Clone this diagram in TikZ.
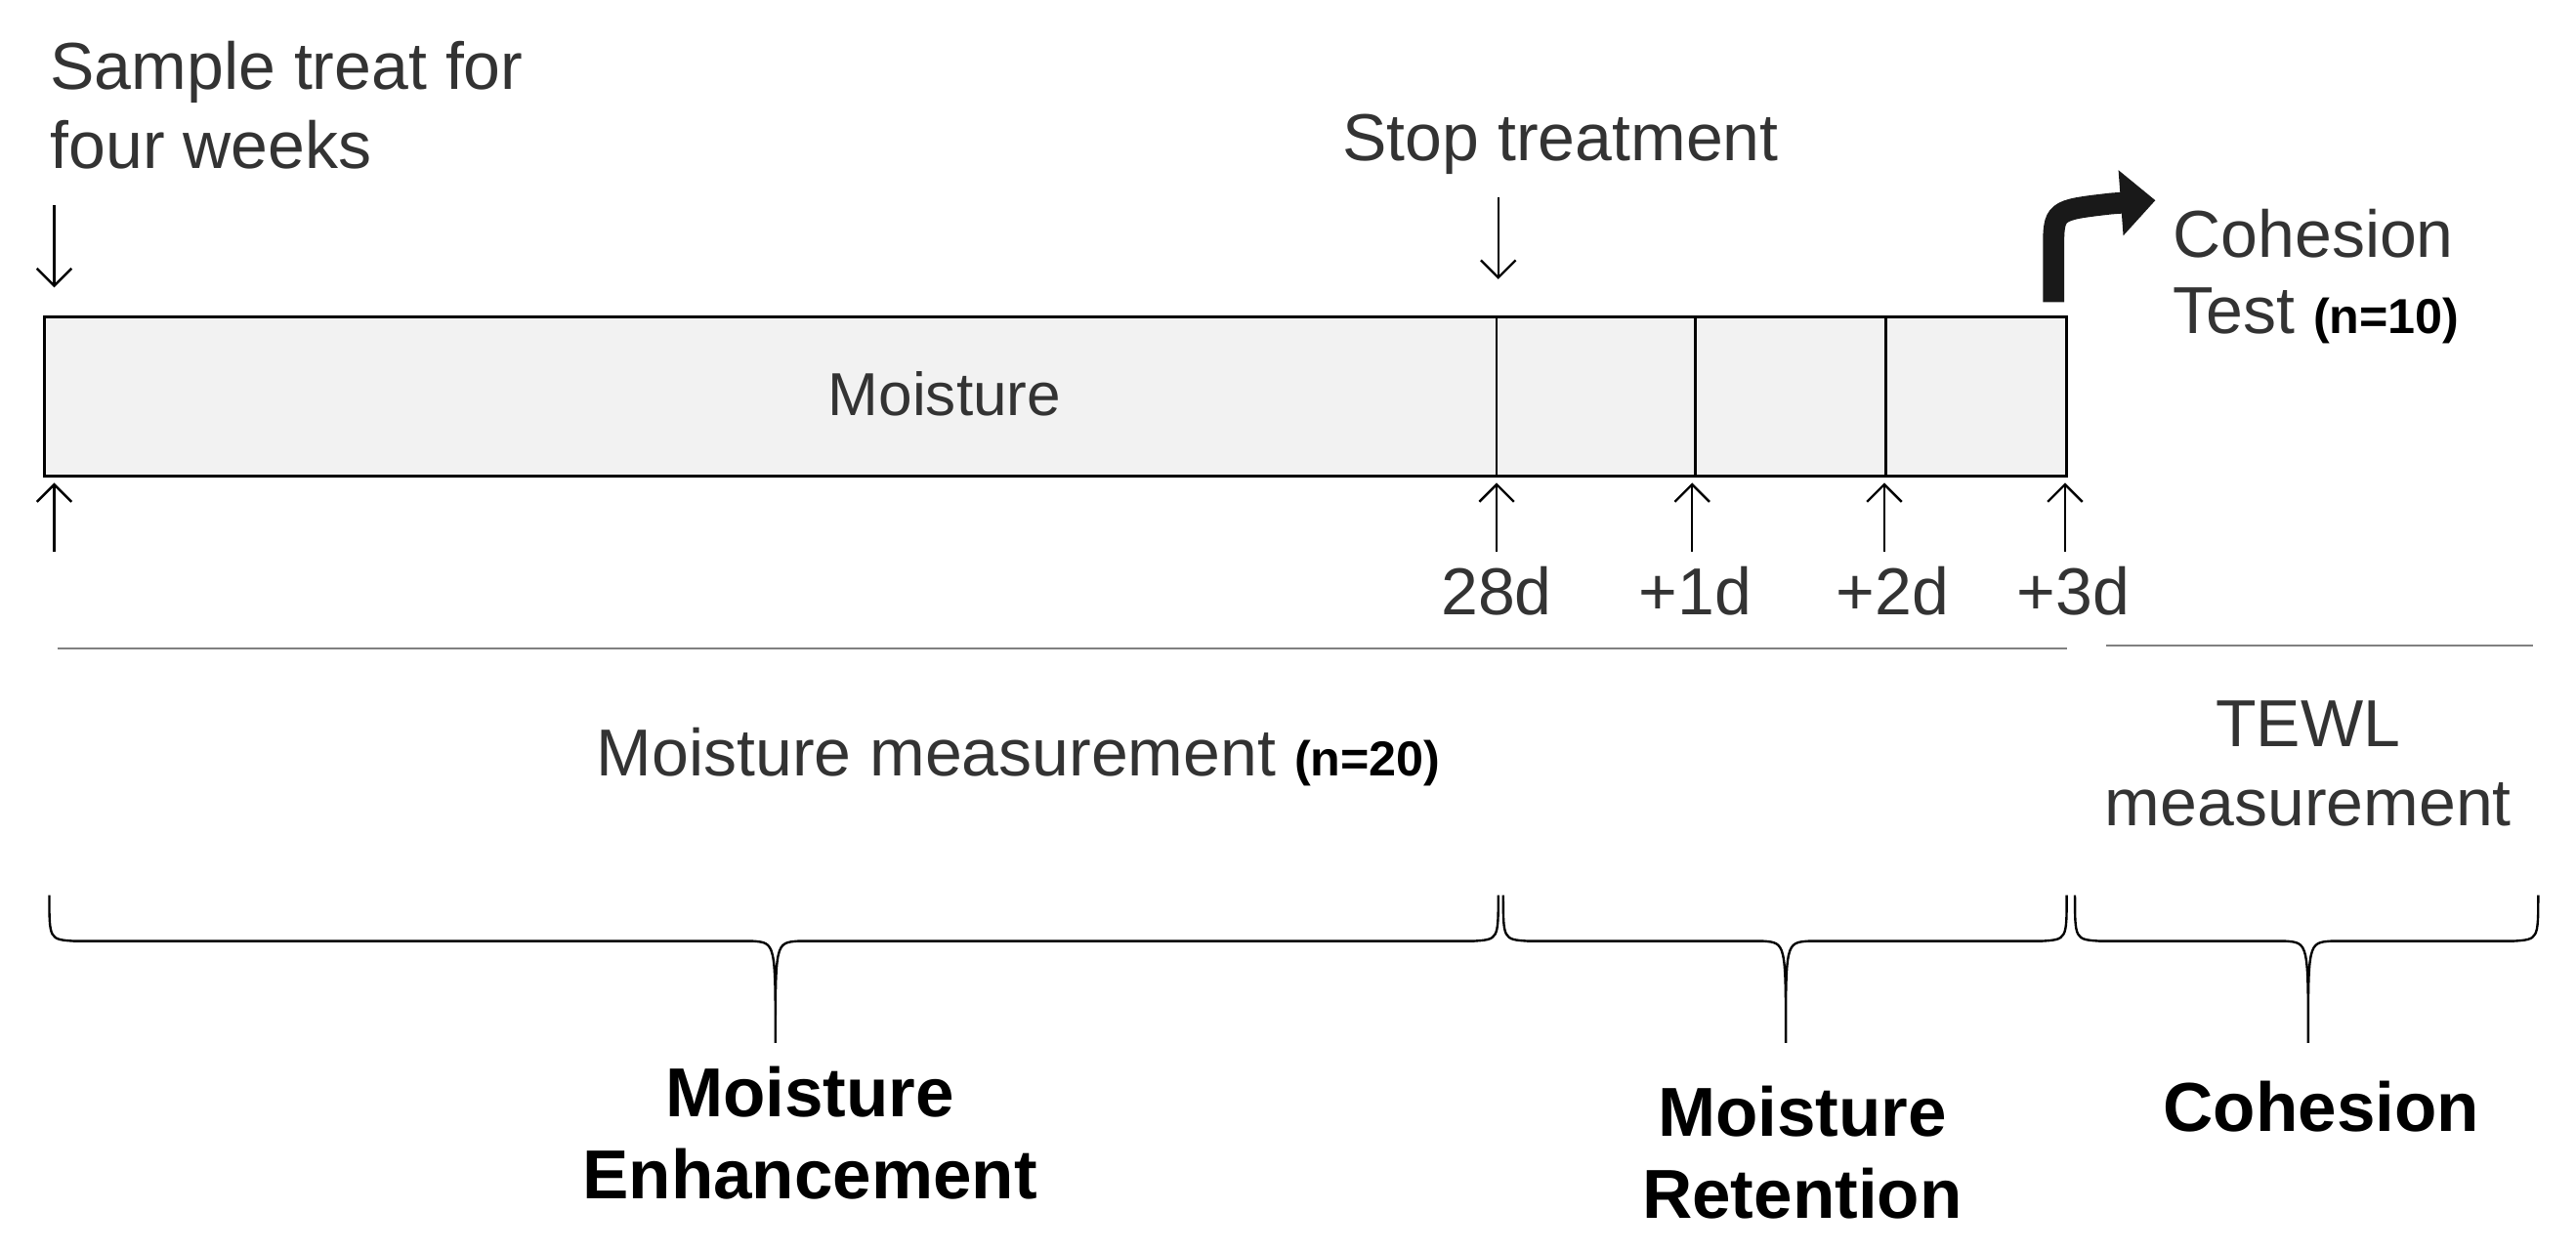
\documentclass[tikz,border=0pt]{standalone}
\usepackage{fontspec}
\setmainfont{Liberation Sans}
\usetikzlibrary{arrows.meta}
\definecolor{tx}{HTML}{333333}
\begin{document}
\begin{tikzpicture}[x=0.01cm,y=-0.01cm,
  lab/.style={font=\fontsize{11.5}{13.6}\selectfont,text=tx,inner sep=0},
  blab/.style={font=\fontsize{12}{14.2}\bfseries\selectfont,text=black,inner sep=0,align=center},
  arr/.style={-{Straight Barb[length=3pt]},thin,black},
  brc/.style={thin,black}]
\useasboundingbox (0,0) rectangle (1568,762);
% box
\draw[fill=gray!10] (27,193) rectangle (1258,290);
\node[font=\fontsize{10.5}{12}\selectfont,text=tx,inner sep=0] (box) at (575,240) {Moisture};
\coordinate (d1t) at (911,193); \coordinate (d1b) at (911,290);
\coordinate (d2t) at (1032,193); \coordinate (d2b) at (1032,290);
\coordinate (d3t) at (1148,193); \coordinate (d3b) at (1148,290);
\draw (d1t)--(d1b) (d2t)--(d2b) (d3t)--(d3b);
% top labels
\node[lab,anchor=west,align=left] (samp) at (30,64) {Sample treat for\\four weeks};
\coordinate (a1s) at (33,125); \coordinate (a1e) at (33,175);
\draw[arr] (a1s)--(a1e);
\node[lab] (stop) at (950,88) {Stop treatment};
\coordinate (a2s) at (912,120); \coordinate (a2e) at (912,170);
\draw[arr] (a2s)--(a2e);
\coordinate (cs) at (1250,184); \coordinate (ce) at (1312,122);
\draw[line width=13*0.01cm,gray!20!black,-{Triangle[length=6pt,width=11pt]}] (cs) -- (1250,152) .. controls (1250,128) .. (1285,124) -- (ce);
\node[lab,anchor=west] (coh) at (1322,142) {Cohesion};
\node[lab,anchor=west] (test) at (1322,192) {Test {\fontsize{8.5}{9}\bfseries\selectfont\color{black}(n=10)}};
% bottom arrows
\foreach \x/\n in {33/u0,911/u1,1030/u2,1147/u3,1257/u4}{
  \coordinate (\n s) at (\x,336); \coordinate (\n e) at (\x,294);
  \draw[arr] (\n s)--(\n e);}
\node[lab] (l28) at (911,360) {28d};
\node[lab] (l1) at (1032,360) {+1d};
\node[lab] (l2) at (1152,360) {+2d};
\node[lab] (l3) at (1262,360) {+3d};
% lines
\coordinate (m1) at (35,395); \coordinate (m2) at (1258,395);
\coordinate (t1) at (1282,393); \coordinate (t2) at (1542,393);
\draw[gray,thin] (m1)--(m2) (t1)--(t2);
\node[lab] (mm) at (620,461) {Moisture measurement {\fontsize{8.5}{9}\bfseries\selectfont\color{black}(n=20)}};
\node[lab,align=center] (tewl) at (1405,465) {TEWL\\measurement};
% braces
\foreach \a/\t/\b/\n in {30/472/912/b1,915/1087/1258/b2,1263/1405/1545/b3}{
 \coordinate (\n) at (\t,635);
 \draw[brc] (\a,545) .. controls (\a,572) .. (\a+15,573) -- (\t-14,573) .. controls (\t,574) .. (\n)
   .. controls (\t,574) .. (\t+14,573) -- (\b-15,573) .. controls (\b,572) .. (\b,545);}
\node[blab] (me) at (493,690) {Moisture\\Enhancement};
\node[blab] (mr) at (1097,702) {Moisture\\Retention};
\node[blab] (ch) at (1413,674) {Cohesion};
\end{tikzpicture}
\end{document}
